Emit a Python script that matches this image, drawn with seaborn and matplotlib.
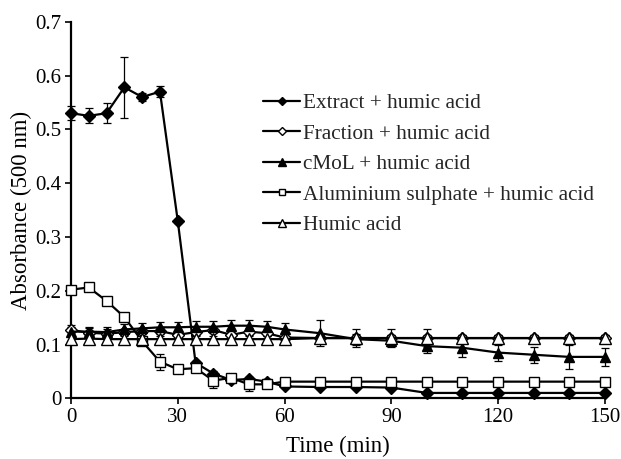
import numpy as np
import pandas as pd
import seaborn as sns
import matplotlib.pyplot as plt

times = [0, 5, 10, 15, 20, 25, 30, 35, 40, 45, 50, 55, 60,
         70, 80, 90, 100, 110, 120, 130, 140, 150]

extract = [0.53, 0.525, 0.53, 0.578, 0.56, 0.57, 0.33, 0.066, 0.046, 0.034, 0.036, 0.031, 0.022,
           0.021, 0.021, 0.02, 0.01, 0.01, 0.01, 0.01, 0.01, 0.01]
extract_err = [0.013, 0.014, 0.019, 0.057, 0.008, 0.01, 0.004, 0.004, 0.004, 0.004, 0.004, 0.004, 0.003,
               0.003, 0.003, 0.003, 0.003, 0.003, 0.003, 0.003, 0.003, 0.003]

fraction = [0.127, 0.122, 0.12, 0.123, 0.125, 0.125, 0.118, 0.123, 0.127, 0.118, 0.124, 0.121, 0.113,
            0.112, 0.112, 0.112, 0.112, 0.112, 0.112, 0.112, 0.112, 0.112]
fraction_err = [0.01, 0.008, 0.008, 0.006, 0.006, 0.006, 0.006, 0.006, 0.006, 0.006, 0.006, 0.006, 0.006,
                0.006, 0.016, 0.016, 0.016, 0.006, 0.006, 0.006, 0.006, 0.006]

cmol = [0.124, 0.124, 0.123, 0.128, 0.13, 0.132, 0.132, 0.133, 0.133, 0.135, 0.135, 0.133, 0.128,
        0.121, 0.11, 0.107, 0.097, 0.094, 0.085, 0.081, 0.077, 0.077]
cmol_err = [0.008, 0.008, 0.009, 0.01, 0.01, 0.01, 0.01, 0.01, 0.01, 0.01, 0.01, 0.01, 0.012,
            0.024, 0.01, 0.01, 0.012, 0.018, 0.015, 0.015, 0.022, 0.017]

alum = [0.202, 0.206, 0.181, 0.151, 0.106, 0.068, 0.054, 0.056, 0.033, 0.038, 0.026, 0.026, 0.031,
        0.031, 0.031, 0.031, 0.031, 0.031, 0.031, 0.031, 0.031, 0.031]
alum_err = [0.003, 0.003, 0.003, 0.003, 0.003, 0.015, 0.003, 0.003, 0.013, 0.003, 0.013, 0.003, 0.003,
            0.003, 0.003, 0.003, 0.003, 0.003, 0.003, 0.003, 0.003, 0.003]

humic = [0.11, 0.111, 0.11, 0.11, 0.11, 0.11, 0.11, 0.11, 0.11, 0.11, 0.11, 0.11, 0.11,
         0.112, 0.112, 0.112, 0.112, 0.112, 0.112, 0.112, 0.112, 0.112]
humic_err = [0.005] * 22

labels = ['Extract + humic acid', 'Fraction + humic acid', 'cMoL + humic acid',
          'Aluminium sulphate + humic acid', 'Humic acid']

sns.set_style('ticks')
plt.rcParams['font.family'] = ['Liberation Serif', 'DejaVu Serif']

fig = plt.figure(figsize=(6.21, 4.59), dpi=100)
ax = fig.add_axes([0.1143, 0.1322, 0.8597, 0.8205])

series = [
    (extract, extract_err, 'D', 'black', 6.5),
    (fraction, fraction_err, 'D', 'white', 6.5),
    (cmol, cmol_err, '^', 'black', 7.5),
    (alum, alum_err, 's', 'white', 6.5),
    (humic, humic_err, '^', 'white', 8),
]

for (vals, err, mk, face, ms), lab in zip(series, labels):
    ax.errorbar(times, vals, yerr=err, fmt='none', ecolor='black',
                elinewidth=0.9, capsize=3, capthick=0.9, zorder=2)
for (vals, err, mk, face, ms), lab in zip(series, labels):
    df = pd.DataFrame({'time': times, 'value': vals})
    sns.lineplot(data=df, x='time', y='value', ax=ax, color='black', linewidth=1.6,
                 marker=mk, markersize=ms, markerfacecolor=face, markeredgecolor='black',
                 markeredgewidth=1.0, label=lab, zorder=3)

ax.set_xlim(0, 150)
ax.set_ylim(0, 0.7)
ax.set_xticks([0, 30, 60, 90, 120, 150])
ax.set_yticks(np.arange(0, 0.71, 0.1))
ax.set_yticklabels(['0', '0.1', '0.2', '0.3', '0.4', '0.5', '0.6', '0.7'])
ax.tick_params(labelsize=15, width=1.2, length=4, color='black', labelcolor='black', pad=3)
for s in ['left', 'bottom']:
    ax.spines[s].set_linewidth(1.6)
    ax.spines[s].set_color('black')
sns.despine(ax=ax)
ax.set_xlabel('Time (min)', fontsize=16.5, color='black', labelpad=6)
ax.set_ylabel('Absorbance (500 nm)', fontsize=16.5, color='black', labelpad=2)

for c in ax.get_children():
    if hasattr(c, 'set_clip_on'):
        c.set_clip_on(False)

ax.legend(loc='upper left', bbox_to_anchor=(0.4235, 0.797), bbox_transform=fig.transFigure,
          frameon=False, fontsize=15.3, handlelength=1.75, handletextpad=0.15,
          labelspacing=0.5, markerscale=0.7, borderpad=0, borderaxespad=0)

fig.savefig('out.png', dpi=100)
